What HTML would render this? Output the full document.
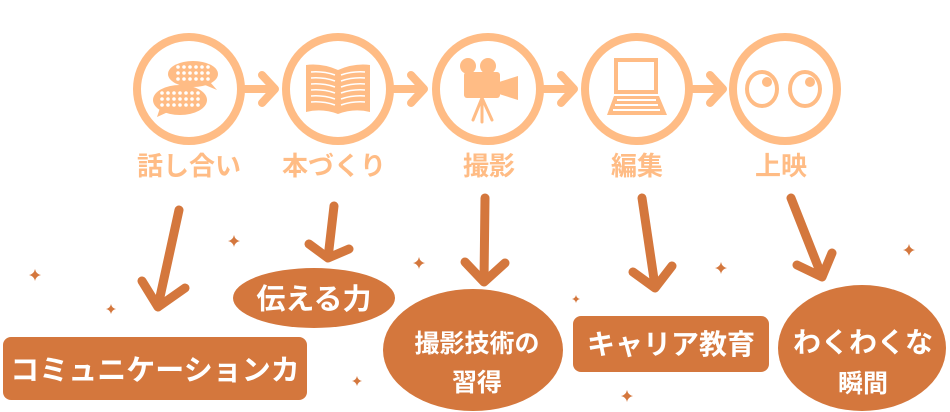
<!DOCTYPE html>
<html><head><meta charset="utf-8"><style>
html,body{margin:0;padding:0;background:#fff;}
svg{display:block;}
text{font-family:"Liberation Sans","Noto Sans CJK JP",sans-serif;font-weight:bold;}
</style></head><body>
<svg width="950" height="412" viewBox="0 0 950 412" xmlns="http://www.w3.org/2000/svg">
<defs>
<symbol id="sp" viewBox="-6 -6 12 12" overflow="visible">
<path d="M0,-6 Q1,-1 6,0 Q1,1 0,6 Q-1,1 -6,0 Q-1,-1 0,-6Z" fill="#D4773D"/>
</symbol>
</defs>
<g fill="none" stroke="#FFBC85" stroke-width="8">
<circle cx="189" cy="89" r="52"/>
<circle cx="338" cy="89" r="52"/>
<circle cx="488" cy="89" r="52"/>
<circle cx="637" cy="89" r="52"/>
<circle cx="785" cy="89" r="52"/>
</g>
<g fill="none" stroke="#FFBC85" stroke-width="8" stroke-linecap="round" stroke-linejoin="round">
<path d="M245,89 H273 M262,75 L275,89 L262,103"/>
<path d="M394,89 H422 M411,75 L424,89 L411,103"/>
<path d="M544,89 H572 M561,75 L574,89 L561,103"/>
<path d="M693,89 H721 M710,75 L723,89 L710,103"/>
</g>
<!-- chat bubbles -->
<g fill="#FFBC85">
<ellipse cx="193" cy="74" rx="25" ry="13"/><path d="M210,82 L217,90 L205,85Z"/>
<ellipse cx="180" cy="100" rx="27" ry="15"/><path d="M160,108 L157,117 L168,112Z"/>
</g>
<g fill="#fff">
<g id="r1"><circle cx="178" cy="67" r="1.8"/><circle cx="184" cy="67" r="1.8"/><circle cx="190" cy="67" r="1.8"/><circle cx="196" cy="67" r="1.8"/><circle cx="202" cy="67" r="1.8"/><circle cx="208" cy="67" r="1.8"/></g>
<use href="#r1" y="6"/><use href="#r1" y="12"/>
<g id="r2"><circle cx="162" cy="93" r="1.8"/><circle cx="168" cy="93" r="1.8"/><circle cx="174" cy="93" r="1.8"/><circle cx="180" cy="93" r="1.8"/><circle cx="186" cy="93" r="1.8"/><circle cx="192" cy="93" r="1.8"/><circle cx="198" cy="93" r="1.8"/></g>
<use href="#r2" y="6"/><use href="#r2" y="12"/>
</g>
<!-- book -->
<path d="M306,65 Q322,63 338,70 Q354,63 370,65 V112 Q354,108 338,114 Q322,108 306,112Z" fill="#FFBC85"/>
<g stroke="#fff" stroke-width="1.5" fill="none">
<path d="M311,72 Q323,71 335,75 M311,78 Q323,77 335,81 M311,84 Q323,83 335,87 M311,90 Q323,89 335,93 M311,96 Q323,95 335,99 M311,102 Q323,101 335,105"/>
<path d="M341,75 Q353,71 365,72 M341,81 Q353,77 365,78 M341,87 Q353,83 365,84 M341,93 Q353,89 365,90 M341,99 Q353,95 365,96 M341,105 Q353,101 365,102"/>
</g>
<!-- camera -->
<g fill="#FFBC85">
<circle cx="468" cy="66" r="8"/><circle cx="488" cy="66" r="8"/>
<rect x="464" y="72" width="36" height="26" rx="3"/>
<path d="M499,82 L518,76 V100 L499,94Z"/>
</g>
<g stroke="#FFBC85" stroke-width="3" stroke-linecap="round"><path d="M482,98 L473,120 M482,98 L482,122 M482,98 L492,120"/></g>
<!-- laptop -->
<rect x="616" y="60" width="40" height="32" fill="none" stroke="#FFBC85" stroke-width="4"/>
<path d="M614,96 H659 L667,115 H607Z" fill="#FFBC85"/>
<g fill="#fff"><rect x="617" y="99" width="39" height="2"/><rect x="615" y="104" width="43" height="2"/><rect x="613" y="109" width="47" height="2"/></g>
<!-- eyes -->
<g fill="none" stroke="#FFBC85" stroke-width="4"><ellipse cx="762" cy="89" rx="15" ry="17"/><ellipse cx="805" cy="89" rx="15" ry="17"/></g>
<g fill="#FFBC85"><circle cx="767" cy="82" r="5"/><circle cx="810" cy="82" r="5"/></g>
<!-- labels -->
<g fill="#FFBC85" font-size="26" text-anchor="middle">
<text x="189" y="175">話し合い</text>
<text x="334" y="175">本づくり</text>
<text x="489" y="175">撮影</text>
<text x="637" y="175">編集</text>
<text x="781" y="175">上映</text>
</g>
<!-- down arrows -->
<g fill="none" stroke="#D4773D" stroke-width="9" stroke-linecap="round" stroke-linejoin="round">
<path d="M179,210 L158,306 M142,281 L158,307 L185,288"/>
<path d="M334,206 L328,258 M309,244 L328,258 L349,249"/>
<path d="M485,198 L484,281 M465,262 L484,282 L505,263"/>
<path d="M642,198 L655,286 M633,272 L655,288 L672,266"/>
<path d="M791,198 L821,274 M797,265 L822,277 L832,253"/>
</g>
<!-- sparkles -->
<use href="#sp" x="29" y="269" width="12" height="12"/>
<use href="#sp" x="228" y="235" width="12" height="12"/>
<use href="#sp" x="106" y="304" width="10" height="10"/>
<use href="#sp" x="352" y="376" width="10" height="10"/>
<use href="#sp" x="413" y="257" width="12" height="12"/>
<use href="#sp" x="572" y="295" width="8" height="8"/>
<use href="#sp" x="715" y="262" width="12" height="12"/>
<use href="#sp" x="621" y="390" width="12" height="12"/>
<use href="#sp" x="903" y="244" width="12" height="12"/>
<!-- result shapes -->
<g fill="#D4773D">
<rect x="3" y="337" width="304" height="63" rx="8"/>
<ellipse cx="314" cy="298" rx="81" ry="30"/>
<ellipse cx="473" cy="350" rx="90" ry="61"/>
<rect x="573" y="316" width="196" height="56" rx="8"/>
<ellipse cx="862" cy="348" rx="84" ry="63"/>
</g>
<g fill="#fff" text-anchor="middle">
<text x="155" y="380" font-size="29">コミュニケーションカ</text>
<text x="314" y="309" font-size="29">伝える力</text>
<text x="477" y="352" font-size="25">撮影技術の</text>
<text x="477" y="391" font-size="25">習得</text>
<text x="671" y="354" font-size="28">キャリア教育</text>
<text x="863" y="352" font-size="28">わくわくな</text>
<text x="863" y="392" font-size="25">瞬間</text>
</g>
</svg>
</body></html>
